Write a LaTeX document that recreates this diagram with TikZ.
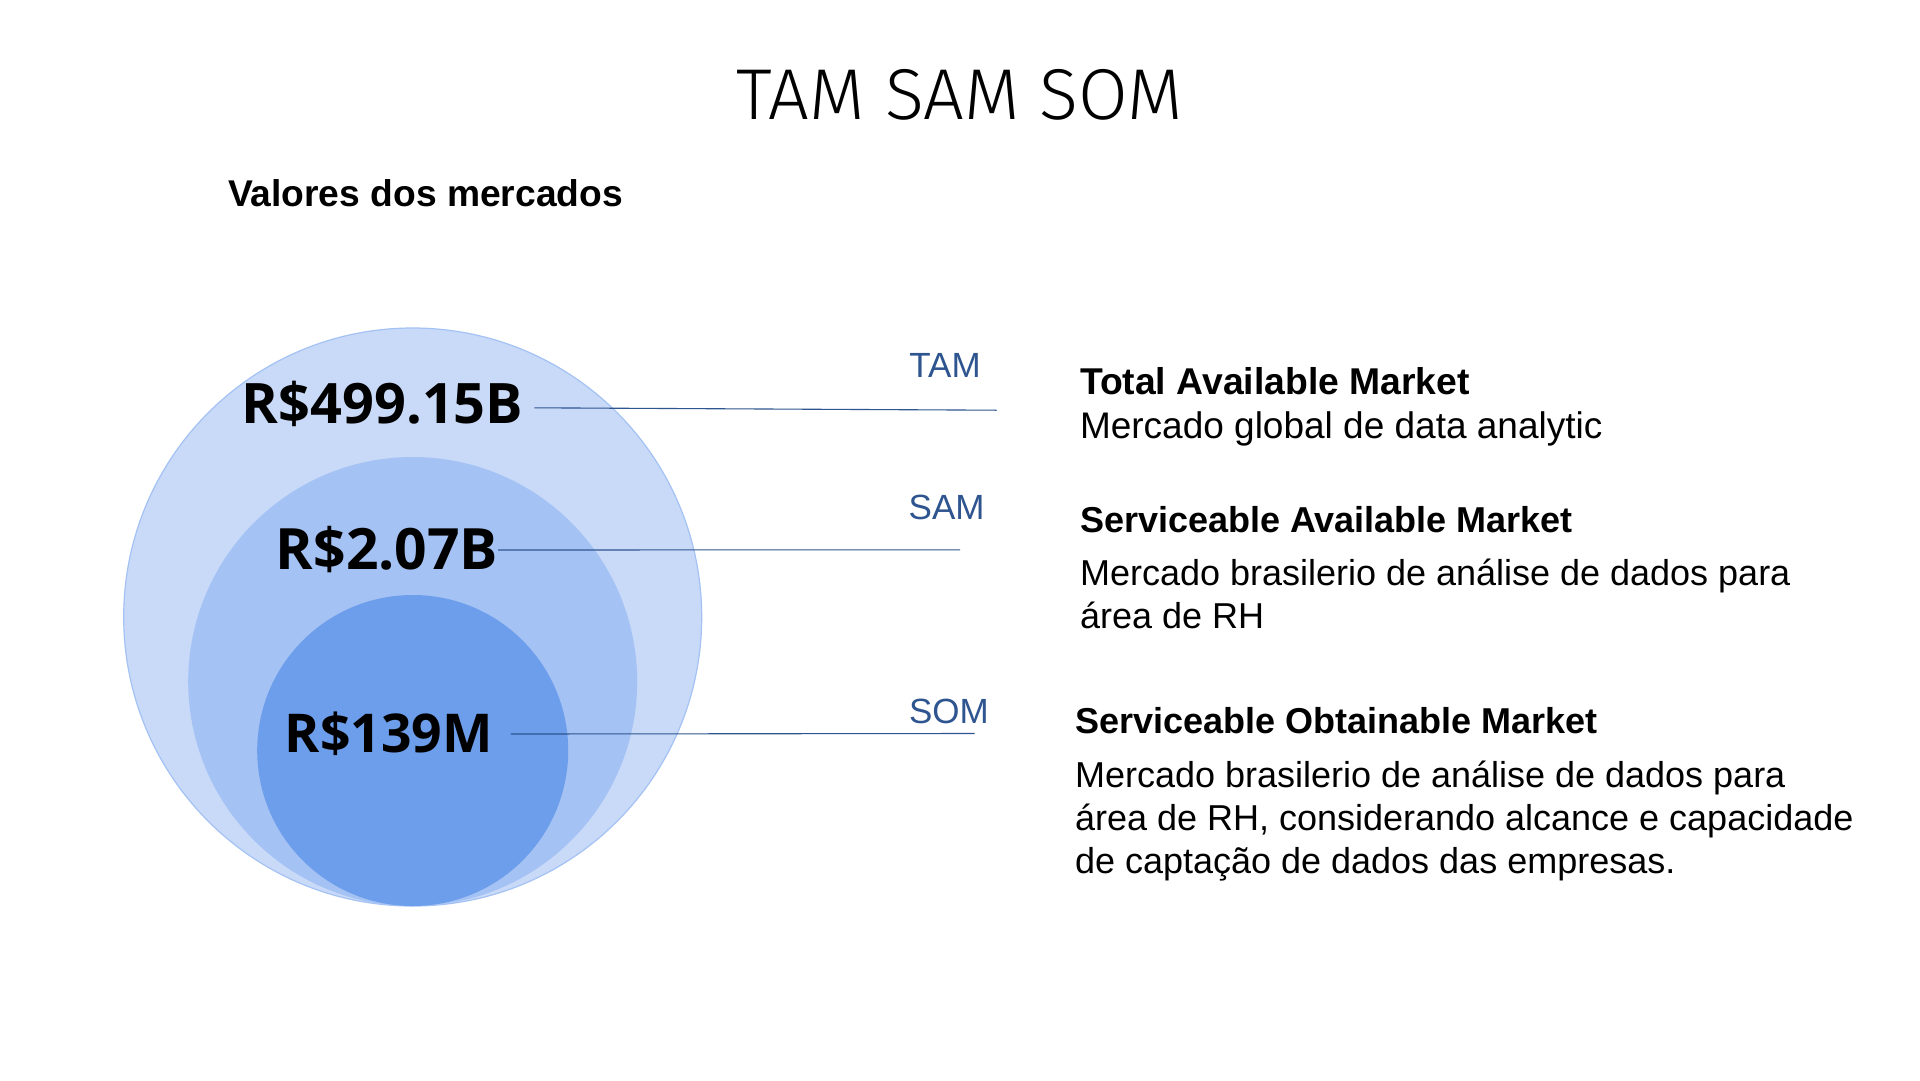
\documentclass[tikz,border=0pt]{standalone}
\usepackage{fontspec}
\setmainfont{Liberation Sans}
\newfontfamily\titlefont{Fira Sans Light}
\newfontfamily\valfont{Open Sans}
\definecolor{ring3}{HTML}{C9DAF8}
\definecolor{ring2}{HTML}{A4C2F4}
\definecolor{ring1}{HTML}{6D9EEB}
\definecolor{lead}{HTML}{2E5590}
\begin{document}
\begin{tikzpicture}[x=1pt,y=-1pt,
  every node/.style={inner sep=0pt,outer sep=0pt},
  value/.style={font=\valfont\bfseries\fontsize{#1}{60}\selectfont,text=black},
  tag/.style={font=\fontsize{35}{40}\selectfont,text=lead},
  head/.style={font=\bfseries\fontsize{#1}{43}\selectfont,anchor=base west},
  head/.default=36,
  body/.style={font=\fontsize{#1}{43}\selectfont,anchor=base west},
  body/.default=36,
  leader/.style={draw=lead,line width=1.1pt}]
  \fill[white] (0,0) rectangle (1920,1080);
  \useasboundingbox (0,0) rectangle (1920,1080);

  % headings
  \node[font=\titlefont\fontsize{72}{80}\selectfont,anchor=base] (title) at (960,119) {TAM SAM SOM};
  \node[font=\bfseries\fontsize{37.2}{43}\selectfont,anchor=base west] (sub) at (228,206) {Valores dos mercados};

  % nested market circles, all touching at the bottom
  \fill[ring3,draw=ring2,line width=1.2pt] (412.7,617) circle (289pt);
  \fill[ring2] (412.7,681.5) circle (224.5pt);
  \fill[ring1] (412.7,750.5) circle (155.5pt);

  % market values
  \node[value=55.8] (vtam) at (382.6,404) {R\$499.15B};
  \node[value=57] (vsam) at (387,550) {R\$2.07B};
  \node[value=53.5] (vsom) at (388.8,734) {R\$139M};

  % leader ends and labels
  \coordinate (etam) at (996.7,410.2);
  \coordinate (esam) at (960,549.8);
  \coordinate (esom) at (974.7,733.5);
  \node[tag] (ltam) at (945,365) {TAM};
  \node[tag] (lsam) at (946.6,507) {SAM};
  \node[tag] (lsom) at (949,711.4) {SOM};

  \draw[leader] ([xshift=11pt,yshift=-3.8pt]vtam.east) -- (etam);
  \draw[leader] (vsam.east) -- (esam);
  \draw[leader] ([xshift=18pt]vsom.east) -- (esom);

  % descriptions
  \node[head=37.3] (htam) at (1080,394) {Total Available Market};
  \node[body=37] (btam) at (1080,438) {Mercado global de data analytic};
  \node[head] (hsam) at (1080,532) {Serviceable Available Market};
  \node[body] (bsam1) at (1080,585) {Mercado brasilerio de análise de dados para};
  \node[body] (bsam2) at (1080,628) {área de RH};
  \node[head] (hsom) at (1075,733) {Serviceable Obtainable Market};
  \node[body] (bsom1) at (1075,787) {Mercado brasilerio de análise de dados para};
  \node[body] (bsom2) at (1075,830) {área de RH, considerando alcance e capacidade};
  \node[body] (bsom3) at (1075,873) {de captação de dados das empresas.};
\end{tikzpicture}
\end{document}
